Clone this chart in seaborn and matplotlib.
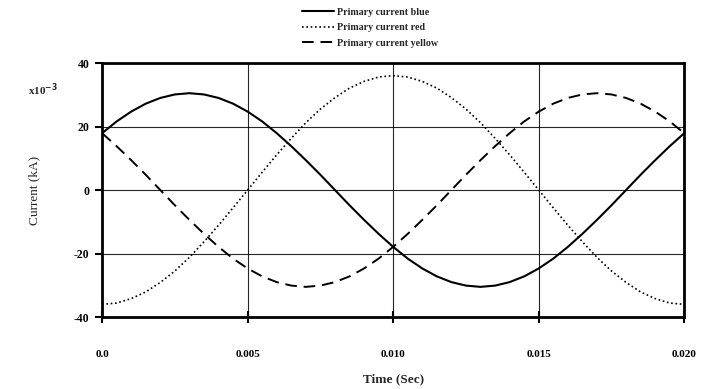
import numpy as np
import pandas as pd
import matplotlib
matplotlib.use("Agg")
import matplotlib.pyplot as plt
import seaborn as sns

# time in seconds
time_s = [0.0, 0.0005, 0.001, 0.0015, 0.002, 0.0025, 0.003, 0.0035, 0.004, 0.0045,
          0.005, 0.0055, 0.006, 0.0065, 0.007, 0.0075, 0.008, 0.0085, 0.009, 0.0095,
          0.010, 0.0105, 0.011, 0.0115, 0.012, 0.0125, 0.013, 0.0135, 0.014, 0.0145,
          0.015, 0.0155, 0.016, 0.0165, 0.017, 0.0175, 0.018, 0.0185, 0.019, 0.0195, 0.020]

# currents in kA x 1e-3
blue = [17.9, 21.6, 24.7, 27.2, 29.0, 30.1, 30.5, 30.1, 29.0, 27.2,
        24.7, 21.6, 17.9, 13.8, 9.4, 4.8, 0.0, -4.8, -9.4, -13.8,
        -17.9, -21.6, -24.7, -27.2, -29.0, -30.1, -30.5, -30.1, -29.0, -27.2,
        -24.7, -21.6, -17.9, -13.8, -9.4, -4.8, 0.0, 4.8, 9.4, 13.8, 17.9]
red = [-36.0, -35.6, -34.2, -32.1, -29.1, -25.5, -21.2, -16.3, -11.1, -5.6,
       0.0, 5.6, 11.1, 16.3, 21.2, 25.5, 29.1, 32.1, 34.2, 35.6,
       36.0, 35.6, 34.2, 32.1, 29.1, 25.5, 21.2, 16.3, 11.1, 5.6,
       0.0, -5.6, -11.1, -16.3, -21.2, -25.5, -29.1, -32.1, -34.2, -35.6, -36.0]
yellow = [17.9, 13.8, 9.4, 4.8, 0.0, -4.8, -9.4, -13.8, -17.9, -21.6,
          -24.7, -27.2, -29.0, -30.1, -30.5, -30.1, -29.0, -27.2, -24.7, -21.6,
          -17.9, -13.8, -9.4, -4.8, 0.0, 4.8, 9.4, 13.8, 17.9, 21.6,
          24.7, 27.2, 29.0, 30.1, 30.5, 30.1, 29.0, 27.2, 24.7, 21.6, 17.9]

series_names = ["Primary current blue", "Primary current red", "Primary current yellow"]
x_ticks = [0.0, 0.005, 0.010, 0.015, 0.020]
x_tick_labels = ["0.0", "0.005", "0.010", "0.015", "0.020"]
y_ticks = [-40, -20, 0, 20, 40]
y_tick_labels = ["-40", "-20", "0", "20", "40"]

sns.set_style("white")
plt.rcParams["font.family"] = ["Liberation Serif", "DejaVu Serif"]
plt.rcParams["font.weight"] = "bold"

fig = plt.figure(figsize=(7.04, 3.89), dpi=100)
ax = fig.add_axes([0.145, 0.185, 0.827, 0.653])

styles = [(1.5, "-"), (1.2, (0, (1, 1.6))), (1.4, (0, (6, 3.5)))]
for name, vals, (lw, ls) in zip(series_names, [blue, red, yellow], styles):
    df = pd.DataFrame({"t": time_s, "i": vals})
    sns.lineplot(data=df, x="t", y="i", ax=ax, color="black", lw=lw,
                 linestyle=ls, label=name, zorder=3)

ax.set_xlim(0, 0.020)
ax.set_ylim(-40, 40)
ax.set_xticks(x_ticks)
ax.set_xticklabels(x_tick_labels)
ax.set_yticks(y_ticks)
ax.set_yticklabels(y_tick_labels)
ax.grid(True, color="black", lw=0.8, linestyle="-", alpha=0.85)
for s in ax.spines.values():
    s.set_visible(True)
    s.set_color("black")
    s.set_linewidth(2.0)
ax.tick_params(axis="x", direction="inout", length=8, width=1.5, pad=20,
               labelsize=8, colors="black", bottom=True)
ax.tick_params(axis="y", direction="out", length=5, width=1.5, pad=4,
               labelsize=8.5, colors="black", left=True)
for lbl in ax.get_xticklabels() + ax.get_yticklabels():
    lbl.set_fontweight("bold")

ax.set_xlabel("Time (Sec)", fontsize=9.5, fontweight="bold", labelpad=10)
ax.set_ylabel("Current (kA)", fontsize=9.5, fontweight="normal", labelpad=24)
fig.text(0.04, 0.77, r"x10$^{-3}$", fontsize=8, fontweight="bold", ha="left", va="center")

leg = ax.legend(loc="lower center", bbox_to_anchor=(0.46, 1.06), frameon=False,
                fontsize=7.2, handlelength=3.2, handletextpad=0.3, labelspacing=0.65,
                borderaxespad=0, borderpad=0)
for t in leg.get_texts():
    t.set_fontweight("bold")

fig.savefig("out.png", dpi=100)
